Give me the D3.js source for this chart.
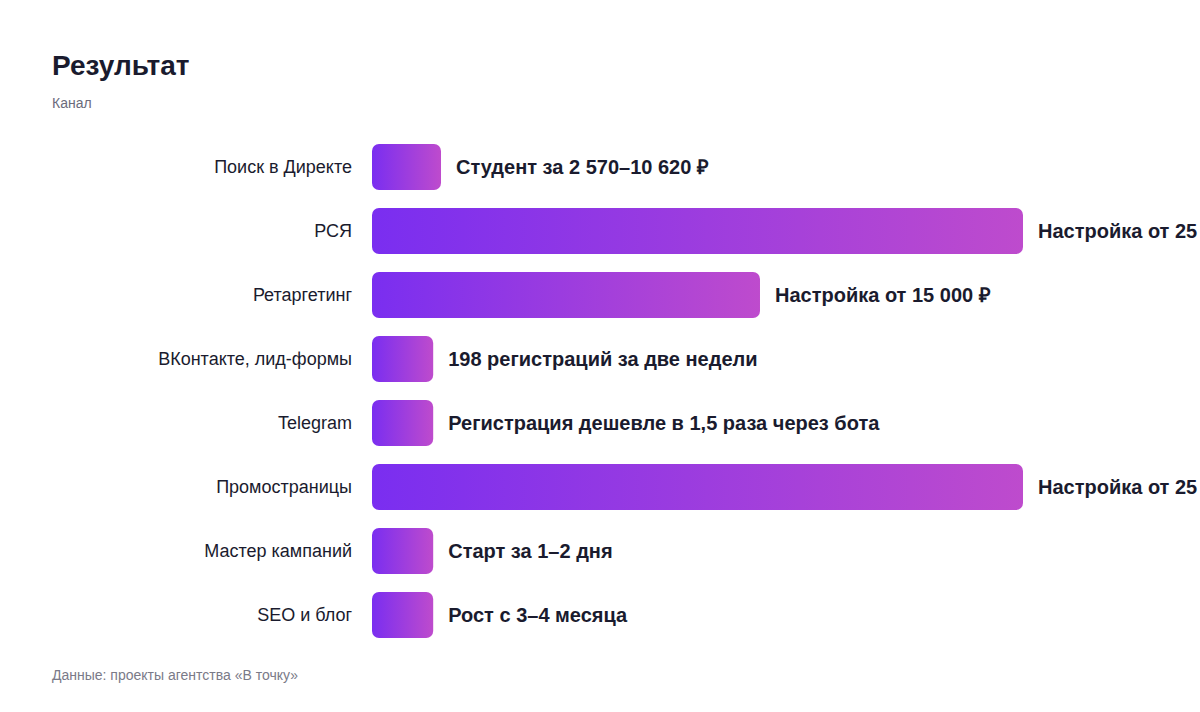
<!DOCTYPE html>
<html><head><meta charset="utf-8">
<script src="https://cdn.jsdelivr.net/npm/d3@7"></script>
<style>body{margin:0;background:#fff;overflow:hidden}svg{display:block}</style>
</head><body><svg id="c" width="1200" height="712"></svg>
<script>
const categories=["Поиск в Директе","РСЯ","Ретаргетинг","ВКонтакте, лид-формы","Telegram","Промостраницы","Мастер кампаний","SEO и блог"];
const values=[2650,25000,14900,2350,2350,25000,2350,2350];
const labels=["Студент за 2 570–10 620 ₽","Настройка от 25 000 ₽","Настройка от 15 000 ₽","198 регистраций за две недели","Регистрация дешевле в 1,5 раза через бота","Настройка от 25 000 ₽","Старт за 1–2 дня","Рост с 3–4 месяца"];
const svg=d3.select("#c");
const font="'Liberation Sans', Arial, sans-serif";
const x=d3.scaleLinear().domain([0,25000]).range([372,1023]);
const y=d3.scaleBand().domain(categories).range([135,647]).paddingInner(18/64).paddingOuter(9/64);
const defs=svg.append("defs");
const g=defs.append("linearGradient").attr("id","grad").attr("x1","0").attr("x2","1").attr("y1","0").attr("y2","0");
g.append("stop").attr("offset","0").attr("stop-color","#7A2EF0");
g.append("stop").attr("offset","1").attr("stop-color","#BE4BCD");
svg.append("text").attr("x",52).attr("y",75).text("Результат").attr("font-family",font).attr("font-size",28).attr("font-weight",700).attr("fill","#1a1b2e");
svg.append("text").attr("x",52).attr("y",108).text("Канал").attr("font-family",font).attr("font-size",14).attr("fill","#6b6b7b");
svg.selectAll("rect.b").data(categories).join("rect").attr("class","b")
 .attr("x",x(0)).attr("y",d=>y(d)).attr("width",(d,i)=>x(values[i])-x(0)).attr("height",y.bandwidth())
 .attr("rx",7).attr("fill","url(#grad)");
svg.selectAll("text.c").data(categories).join("text").attr("class","c")
 .attr("x",352).attr("y",d=>y(d)+y.bandwidth()/2).attr("dy","0.35em").attr("text-anchor","end")
 .text(d=>d).attr("font-family",font).attr("font-size",18).attr("fill","#1a1b2e");
svg.selectAll("text.v").data(categories).join("text").attr("class","v")
 .attr("x",(d,i)=>x(values[i])+15).attr("y",d=>y(d)+y.bandwidth()/2).attr("dy","0.35em")
 .text((d,i)=>labels[i]).attr("font-family",font).attr("font-size",20).attr("font-weight",700).attr("fill","#1a1b2e");
svg.append("text").attr("x",52).attr("y",680).text("Данные: проекты агентства «В точку»").attr("font-family",font).attr("font-size",14).attr("fill","#7a7a88");
</script></body></html>
